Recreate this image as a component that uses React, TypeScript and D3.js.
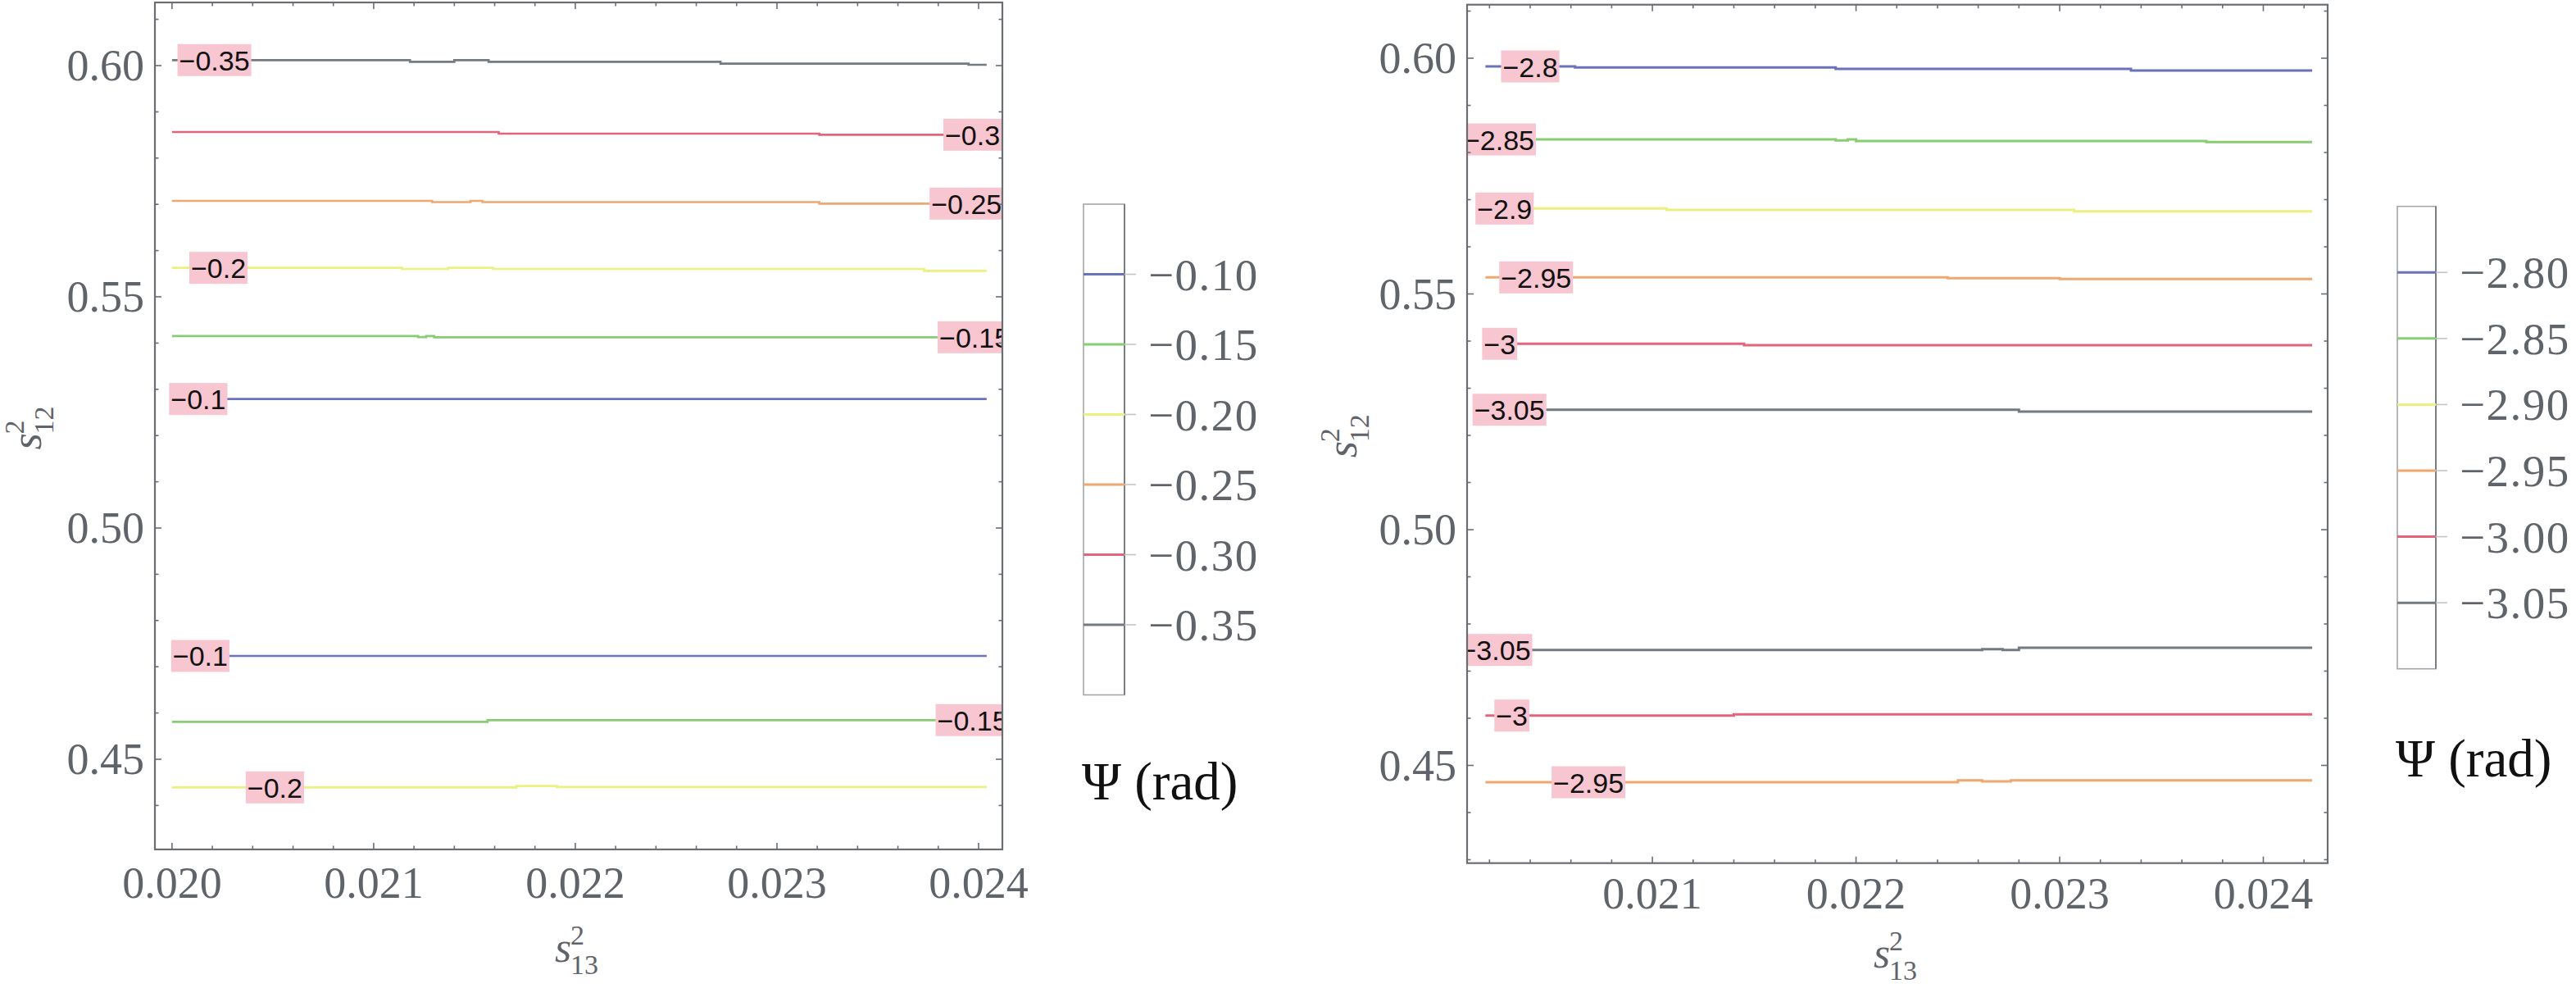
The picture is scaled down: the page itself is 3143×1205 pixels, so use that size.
import * as React from 'react';
import * as d3 from 'd3';

const width = 3143;
const height = 1205;

// contour levels and their colours (same order in both panels)
const levelColors = ['#6a72bb', '#88cd74', '#ecf07e', '#eea870', '#e1657b', '#747a81'];
const leftLevels = [-0.1, -0.15, -0.2, -0.25, -0.3, -0.35];
const leftLevelLabels = ['−0.10', '−0.15', '−0.20', '−0.25', '−0.30', '−0.35'];
const rightLevels = [-2.8, -2.85, -2.9, -2.95, -3.0, -3.05];
const rightLevelLabels = ['−2.80', '−2.85', '−2.90', '−2.95', '−3.00', '−3.05'];

// axis ranges
const leftDomainX = [0.019915, 0.024118];
const leftDomainY = [0.430496, 0.613652];
const rightDomainX = [0.02009, 0.024316];
const rightDomainY = [0.42927, 0.611357];
const leftBarDomain = [-0.4, -0.05];
const rightBarDomain = [-3.1, -2.75];

// ticks
const leftXTicks = [0.02, 0.021, 0.022, 0.023, 0.024];
const leftXTickLabels = ['0.020', '0.021', '0.022', '0.023', '0.024'];
const rightXTicks = [0.021, 0.022, 0.023, 0.024];
const rightXTickLabels = ['0.021', '0.022', '0.023', '0.024'];
const yTicks = [0.45, 0.5, 0.55, 0.6];
const yTickLabels = ['0.45', '0.50', '0.55', '0.60'];

// left panel contours: [s13, s12]
const lGray = [[0.02, 0.60119], [0.02118, 0.60083], [0.0214, 0.60119], [0.02157, 0.60083], [0.02272, 0.60041], [0.02395, 0.60018], [0.02404, 0.60018]];
const lRed = [[0.02, 0.58564], [0.02162, 0.58528], [0.02321, 0.58505], [0.02404, 0.58505]];
const lOrange = [[0.02, 0.57074], [0.02129, 0.57048], [0.02148, 0.57074], [0.02154, 0.57048], [0.02321, 0.57016], [0.02404, 0.57016]];
const lYellowUp = [[0.02, 0.55626], [0.02114, 0.55603], [0.02137, 0.55626], [0.02159, 0.55603], [0.02373, 0.55562], [0.02404, 0.55562]];
const lGreenUp = [[0.02, 0.5415], [0.02122, 0.5413], [0.02126, 0.5415], [0.0213, 0.54125], [0.02404, 0.54125]];
const lBlueUp = [[0.02, 0.5279], [0.02404, 0.5279]];
const lBlueLow = [[0.02, 0.47234], [0.02404, 0.47234]];
const lGreenLow = [[0.02, 0.4581], [0.021565, 0.45846], [0.02404, 0.45846]];
const lYellowLow = [[0.02, 0.44392], [0.021707, 0.4442], [0.021909, 0.444], [0.02404, 0.444]];

// right panel contours
const rBlue = [[0.02018, 0.59826], [0.02062, 0.59803], [0.0219, 0.59774], [0.02335, 0.59739], [0.02424, 0.59739]];
const rGreen = [[0.02018, 0.58278], [0.0219, 0.58255], [0.02196, 0.58278], [0.022, 0.58243], [0.02372, 0.58221], [0.02424, 0.58221]];
const rYellow = [[0.02018, 0.56812], [0.02107, 0.56783], [0.02307, 0.56753], [0.02424, 0.56753]];
const rOrangeUp = [[0.02018, 0.55351], [0.02245, 0.55334], [0.023, 0.55317], [0.02424, 0.55317]];
const rRedUp = [[0.02018, 0.53943], [0.02145, 0.53913], [0.02424, 0.53913]];
const rGrayUp = [[0.02018, 0.52544], [0.0228, 0.52504], [0.02424, 0.52504]];
const rGrayLow = [[0.02018, 0.47449], [0.02262, 0.47466], [0.02272, 0.47449], [0.0228, 0.47496], [0.02424, 0.47496]];
const rRedLow = [[0.02018, 0.46057], [0.0214, 0.46082], [0.02424, 0.46082]];
const rOrangeLow = [[0.02018, 0.44643], [0.0225, 0.44683], [0.02262, 0.4466], [0.02276, 0.44683], [0.02424, 0.44683]];

// contour labels: [s13, s12, text]
const leftLabels = [
    [0.02021, 0.60119, '−0.35'], [0.02397, 0.58505, '−0.3'], [0.02394, 0.57016, '−0.25'],
    [0.02023, 0.55626, '−0.2'], [0.02398, 0.54125, '−0.15'], [0.02013, 0.5279, '−0.1'],
    [0.02014, 0.47234, '−0.1'], [0.02397, 0.45846, '−0.15'], [0.02051, 0.44392, '−0.2'],
];
const rightLabels = [
    [0.0204, 0.59826, '−2.8'], [0.020247, 0.58278, '−2.85'], [0.020274, 0.56812, '−2.9'],
    [0.020429, 0.55351, '−2.95'], [0.02025, 0.53943, '−3'], [0.020298, 0.52544, '−3.05'],
    [0.020229, 0.47449, '−3.05'], [0.02031, 0.46057, '−3'], [0.020686, 0.44643, '−2.95'],
];

const leftContours = [
    {pts: lGray, c: 5}, {pts: lRed, c: 4}, {pts: lOrange, c: 3}, {pts: lYellowUp, c: 2}, {pts: lGreenUp, c: 1},
    {pts: lBlueUp, c: 0}, {pts: lBlueLow, c: 0}, {pts: lGreenLow, c: 1}, {pts: lYellowLow, c: 2},
];
const rightContours = [
    {pts: rBlue, c: 0}, {pts: rGreen, c: 1}, {pts: rYellow, c: 2}, {pts: rOrangeUp, c: 3}, {pts: rRedUp, c: 4},
    {pts: rGrayUp, c: 5}, {pts: rGrayLow, c: 5}, {pts: rRedLow, c: 4}, {pts: rOrangeLow, c: 3},
];

const axisColor = '#6a6d72';
const tickTextColor = '#5f636a';
const serif = '"Liberation Serif", "Times New Roman", serif';
const sans = '"Liberation Sans", Arial, sans-serif';

const labelWidth = (s: string) =>
    s.split('').reduce((w, ch) => w + (ch === '−' ? 0.584 : ch === '.' ? 0.278 : 0.556), 0) * 34 + 4;

const minorTicks = (domain: number[], step: number, majors: number[]) =>
    d3.range(Math.ceil(domain[0] / step - 1e-9), Math.floor(domain[1] / step + 1e-9) + 1)
        .map(i => i * step)
        .filter(v => !majors.some(m => Math.abs(m - v) < step / 10));

function Panel(p: any) {
    const {frame, id} = p;
    const x = d3.scaleLinear().domain(p.domainX).range([frame.left, frame.right]);
    const y = d3.scaleLinear().domain(p.domainY).range([frame.bottom, frame.top]);
    const line = d3.line<any>().x(d => x(d[0])).y(d => y(d[1])).curve(d3.curveStepAfter);
    const xMinor = minorTicks(p.domainX, 0.0002, p.xTicks);
    const yMinor = minorTicks(p.domainY, 0.01, yTicks);
    const cx = (frame.left + frame.right) / 2;
    const cy = (frame.top + frame.bottom) / 2;
    const tick = {stroke: axisColor, strokeWidth: 1.6};
    return (
        <g>
            <defs>
                <clipPath id={id}>
                    <rect x={frame.left} y={frame.top} width={frame.right - frame.left} height={frame.bottom - frame.top}/>
                </clipPath>
            </defs>
            <g clipPath={`url(#${id})`}>
                {p.contours.map((c: any, i: number) =>
                    <path key={i} d={line(c.pts) || ''} fill="none" stroke={levelColors[c.c]} strokeWidth={p.lineWidth}/>
                )}
                {p.labels.map((l: any, i: number) => {
                    const w = labelWidth(l[2]);
                    const lx = x(l[0]);
                    const ly = y(l[1]);
                    return (
                        <g key={i}>
                            <rect x={lx - w / 2} y={ly - 19.5} width={w} height={39} fill="#f8c6d0"/>
                            <text x={lx} y={ly + 12.5} textAnchor="middle" fontFamily={sans} fontSize={34} fill="#111">{l[2]}</text>
                        </g>
                    );
                })}
            </g>
            {/* ticks on all four sides */}
            {p.xTicks.map((t: number) => (
                <g key={'xt' + t}>
                    <line x1={x(t)} x2={x(t)} y1={frame.bottom} y2={frame.bottom - 8} {...tick}/>
                    <line x1={x(t)} x2={x(t)} y1={frame.top} y2={frame.top + 8} {...tick}/>
                </g>
            ))}
            {xMinor.map(t => (
                <g key={'xm' + t}>
                    <line x1={x(t)} x2={x(t)} y1={frame.bottom} y2={frame.bottom - 4.5} {...tick}/>
                    <line x1={x(t)} x2={x(t)} y1={frame.top} y2={frame.top + 4.5} {...tick}/>
                </g>
            ))}
            {yTicks.map(t => (
                <g key={'yt' + t}>
                    <line x1={frame.left} x2={frame.left + 8} y1={y(t)} y2={y(t)} {...tick}/>
                    <line x1={frame.right} x2={frame.right - 8} y1={y(t)} y2={y(t)} {...tick}/>
                </g>
            ))}
            {yMinor.map(t => (
                <g key={'ym' + t}>
                    <line x1={frame.left} x2={frame.left + 4.5} y1={y(t)} y2={y(t)} {...tick}/>
                    <line x1={frame.right} x2={frame.right - 4.5} y1={y(t)} y2={y(t)} {...tick}/>
                </g>
            ))}
            <rect x={frame.left} y={frame.top} width={frame.right - frame.left} height={frame.bottom - frame.top}
                  fill="none" stroke={axisColor} strokeWidth={2.2}/>
            {p.xTicks.map((t: number, i: number) =>
                <text key={'xl' + t} x={x(t)} y={frame.bottom + p.xLabelDy} textAnchor="middle"
                      fontFamily={serif} fontSize={54} fill={tickTextColor}>{p.xTickLabels[i]}</text>
            )}
            {yTicks.map((t, i) =>
                <text key={'yl' + t} x={frame.left - 13} y={y(t) + 18} textAnchor="end"
                      fontFamily={serif} fontSize={54} fill={tickTextColor}>{yTickLabels[i]}</text>
            )}
            {/* s13^2 */}
            <g transform={`translate(${cx},${p.xTitleY})`} fill={tickTextColor} fontFamily={serif}>
                <text x={-29} y={0} fontSize={52} fontStyle="italic">s</text>
                <text x={-10} y={-21} fontSize={34}>2</text>
                <text x={-10} y={15} fontSize={34}>13</text>
            </g>
            {/* s12^2 */}
            <g transform={`translate(${p.yTitleX},${cy}) rotate(-90)`} fill={tickTextColor} fontFamily={serif}>
                <text x={-29} y={0} fontSize={52} fontStyle="italic">s</text>
                <text x={-10} y={-21} fontSize={34}>2</text>
                <text x={-10} y={15} fontSize={34}>12</text>
            </g>
        </g>
    );
}

function ColorBar(p: any) {
    const {bar} = p;
    const c = d3.scaleLinear().domain(p.domain).range([bar.bottom, bar.top]);
    return (
        <g>
            <rect x={bar.left} y={bar.top} width={bar.right - bar.left} height={bar.bottom - bar.top}
                  fill="#fff" stroke="#a4a6a9" strokeWidth={1.6}/>
            <line x1={bar.right} x2={bar.right} y1={bar.top} y2={bar.bottom} stroke="#74777c" strokeWidth={1.8}/>
            {p.levels.map((v: number, i: number) => (
                <g key={v}>
                    <line x1={bar.left} x2={bar.right} y1={c(v)} y2={c(v)} stroke={levelColors[i]} strokeWidth={3}/>
                    <line x1={bar.right} x2={bar.right + 14} y1={c(v)} y2={c(v)} stroke="#c4c4c4" strokeWidth={1.6}/>
                    <text x={bar.right + 29} y={c(v) + 19} fontFamily={serif} fontSize={55} letterSpacing={1.5}
                          fill={tickTextColor}>{p.labels[i]}</text>
                </g>
            ))}
            <text x={bar.left - 2} y={p.titleY} fontFamily={serif} fontSize={65} fill="#111">Ψ (rad)</text>
        </g>
    );
}

export default function App() {
    return (
        <svg width={width} height={height} style={{position: 'absolute', left: 0, top: 0, background: '#fff'}}>
            <Panel id="clipL" frame={{left: 189, right: 1223, top: 3, bottom: 1036}}
                   domainX={leftDomainX} domainY={leftDomainY}
                   xTicks={leftXTicks} xTickLabels={leftXTickLabels} xLabelDy={59}
                   contours={leftContours} labels={leftLabels} lineWidth={2.7}
                   xTitleY={1173} yTitleX={50}/>
            <ColorBar bar={{left: 1322, right: 1372, top: 249, bottom: 847.5}} domain={leftBarDomain}
                      levels={leftLevels} labels={leftLevelLabels} titleY={975}/>
            <Panel id="clipR" frame={{left: 1790, right: 2840, top: 5.7, bottom: 1052.7}}
                   domainX={rightDomainX} domainY={rightDomainY}
                   xTicks={rightXTicks} xTickLabels={rightXTickLabels} xLabelDy={55.5}
                   contours={rightContours} labels={rightLabels} lineWidth={3}
                   xTitleY={1180} yTitleX={1655}/>
            <ColorBar bar={{left: 2925, right: 2972, top: 251.7, bottom: 815.7}} domain={rightBarDomain}
                      levels={rightLevels} labels={rightLevelLabels} titleY={947}/>
        </svg>
    );
}
